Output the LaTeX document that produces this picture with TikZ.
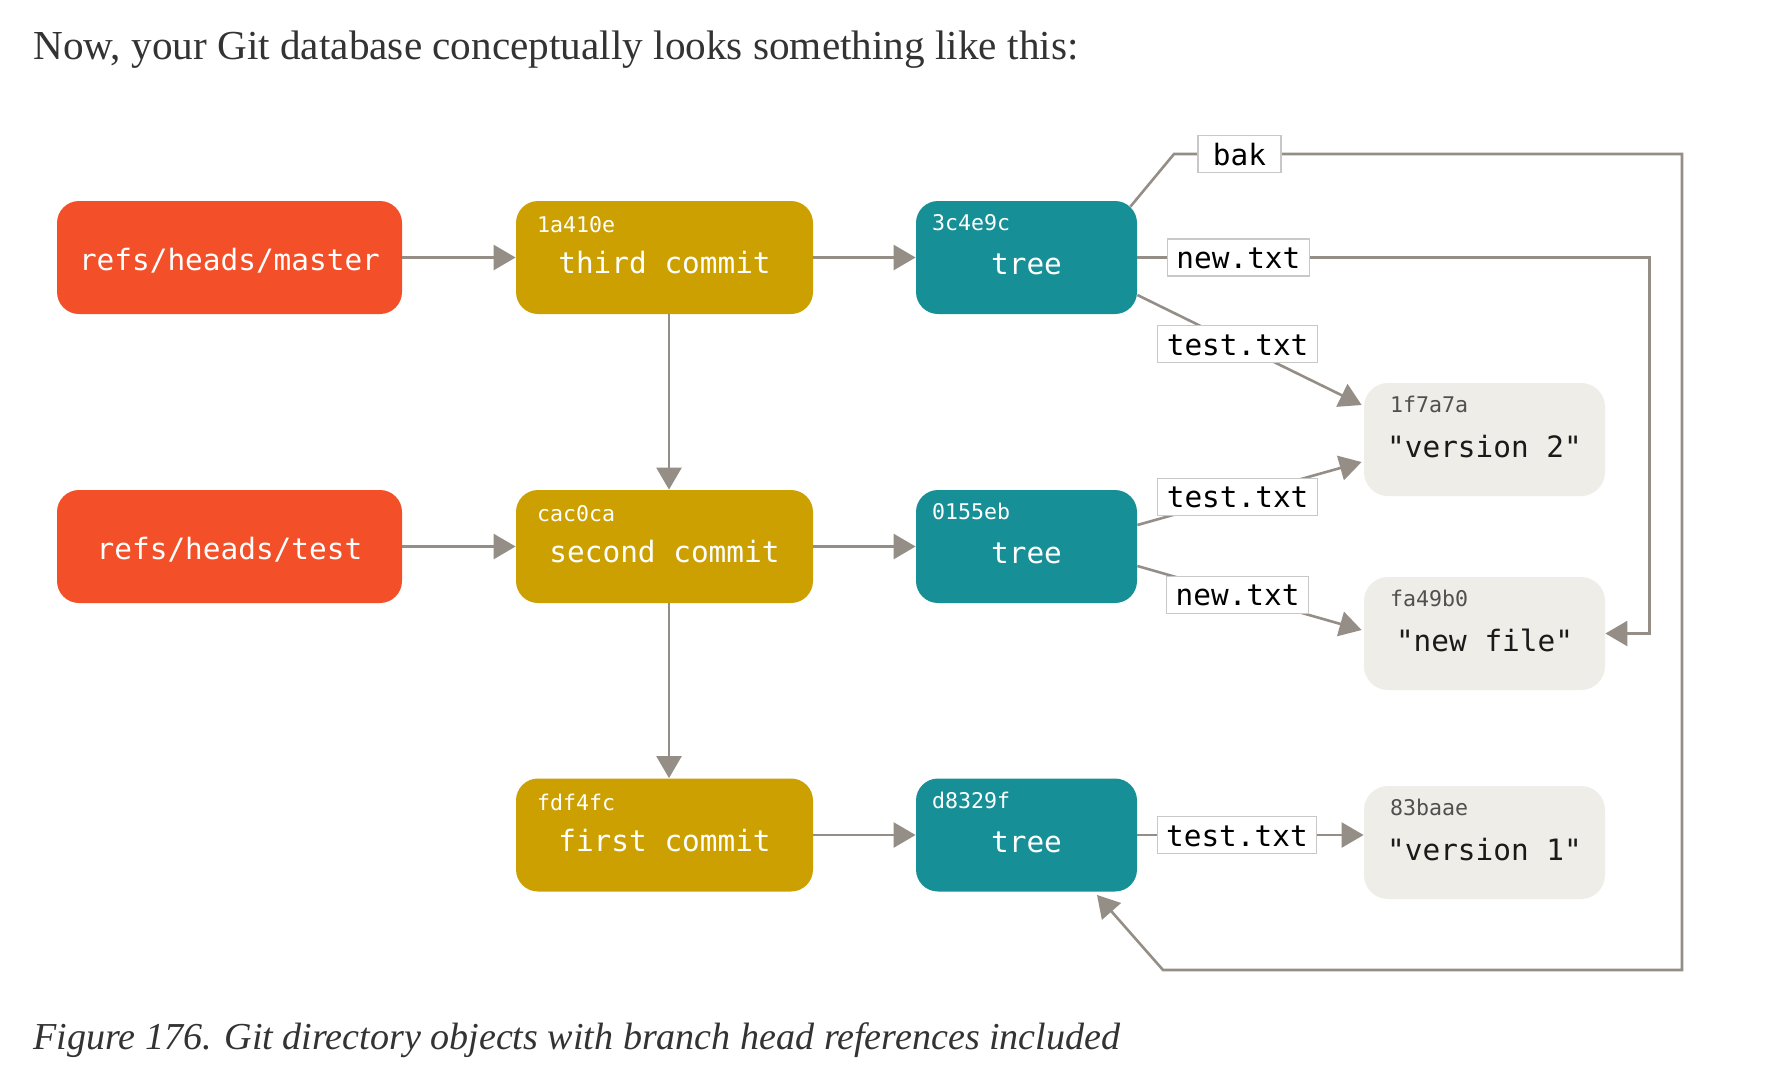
\documentclass[tikz,border=0pt]{standalone}
\usepackage{fontspec}
\setmainfont{Liberation Serif}
\newfontfamily\monof{DejaVu Sans Mono}
\usetikzlibrary{arrows.meta,calc}
\definecolor{refc}{HTML}{F35029}
\definecolor{commitc}{HTML}{CCA000}
\definecolor{treec}{HTML}{178F96}
\definecolor{blobc}{HTML}{EEEDE7}
\definecolor{linec}{HTML}{948E87}
\definecolor{lblc}{HTML}{C8C8C8}
\definecolor{titlec}{HTML}{333333}
\definecolor{blobtext}{HTML}{1A1A1A}
\definecolor{hashdark}{HTML}{505050}
\begin{document}
\begin{tikzpicture}[x=0.5pt,y=-0.5pt,
  box/.style={rounded corners=11pt, minimum height=56.5pt, inner sep=0pt,
    font=\monof\fontsize{14.7}{16}\selectfont, text depth=2.2pt},
  refbox/.style={box, fill=refc, text=white, minimum width=172.5pt, text height=15.6pt},
  commitbox/.style={box, fill=commitc, text=white, minimum width=148.5pt, text height=18.6pt},
  treebox/.style={box, fill=treec, text=white, minimum width=110.5pt, text height=19.6pt},
  blobbox/.style={box, fill=blobc, text=blobtext, minimum width=120.5pt, rounded corners=12pt, text height=20.6pt},
  hash/.style={anchor=west, inner sep=0pt, font=\monof\fontsize{10.8}{12}\selectfont, text=white},
  hashd/.style={hash, text=hashdark},
  lbl/.style={fill=white, draw=lblc, line width=0.6pt, inner xsep=4.5pt, inner ysep=0pt,
    minimum height=18.5pt, text height=13.2pt, text depth=2.2pt,
    font=\monof\fontsize{14.7}{16}\selectfont, text=black},
  arr/.style={draw=linec, line width=1.3pt, -{Triangle[length=11pt,width=12.5pt]}}
]
\fill[white] (0,0) rectangle (1765,1089);
\useasboundingbox (0,0) rectangle (1765,1089);

\node[anchor=base west, inner sep=0pt, text=titlec, font=\fontsize{19}{22}\selectfont] (title) at (33,59.5)
  {\resizebox{522.5pt}{!}{Now, your Git database conceptually looks something like this:}};
\node[anchor=base west, inner sep=0pt, text=titlec, font=\itshape\fontsize{19}{22}\selectfont] (caption) at (33,1049)
  {\resizebox{543.5pt}{!}{Figure 176. Git directory objects with branch head references included}};

\node[refbox] (mr) at (229.5,257.5) {refs/heads/master};
\node[refbox] (tr) at (229.5,546.5) {refs/heads/test};
\node[commitbox] (c3) at (664.5,257.5) {third commit};
\node[commitbox] (c2) at (664.5,546.5) {second commit};
\node[commitbox] (c1) at (664.5,835) {first commit};
\node[treebox] (t1) at (1026.5,257.5) {tree};
\node[treebox] (t2) at (1026.5,546.5) {tree};
\node[treebox] (t3) at (1026.5,835) {tree};
\node[blobbox] (b1) at (1484.5,439.5) {"version 2"};
\node[blobbox] (b2) at (1484.5,633.5) {"new file"};
\node[blobbox] (b3) at (1484.5,842.5) {"version 1"};

\node[hash] (h3) at ($(c3.north west)+(21,24)$) {1a410e};
\node[hash] (h2) at ($(c2.north west)+(21,24)$) {cac0ca};
\node[hash] (h1) at ($(c1.north west)+(21,24)$) {fdf4fc};
\node[hash] (ht1) at ($(t1.north west)+(16,22)$) {3c4e9c};
\node[hash] (ht2) at ($(t2.north west)+(16,22)$) {0155eb};
\node[hash] (ht3) at ($(t3.north west)+(16,22)$) {d8329f};
\node[hashd] (hb1) at ($(b1.north west)+(26,22)$) {1f7a7a};
\node[hashd] (hb2) at ($(b2.north west)+(26,22)$) {fa49b0};
\node[hashd] (hb3) at ($(b3.north west)+(26,22)$) {83baae};

\draw[arr] (mr) -- (c3);
\draw[arr] (tr) -- (c2);
\draw[arr] (c3) -- (t1);
\draw[arr] (c2) -- (t2);
\draw[arr] (c1) -- (t3);
\draw[arr] ($(c3.south)+(4.5,0)$) -- ($(c2.north)+(4.5,0)$);
\draw[arr] ($(c2.south)+(4.5,0)$) -- ($(c1.north)+(4.5,0)$);

\draw[arr] ($(t1.north east)+(-7,6)$) -- (1174,154)
  -- node[lbl, minimum width=41.5pt] (l1) {bak} (1305,154)
  -- (1682,154) -- (1682,970) -- (1163,970) -- ($(t3.south)+(70.5,3)$);
\draw[arr] (t1.east) -- node[lbl] (l2) {new.txt} ++(202,0) -- ++(310,0) |- (b2.east);
\draw[arr] ($(t1.east)+(0,37.5)$) -- node[lbl,pos=0.447] (l3) {test.txt} ($(b1.west)+(-2,-34.5)$);
\draw[arr] ($(t2.east)+(0,-21.5)$) -- node[lbl,pos=0.447] (l4) {test.txt} ($(b1.west)+(-2,22.5)$);
\draw[arr] ($(t2.east)+(0,19.5)$) -- node[lbl,pos=0.447] (l5) {new.txt} ($(b2.west)+(-2,-3.5)$);
\draw[arr] (t3.east) -- node[lbl,pos=0.44] (l6) {test.txt} (t3.east -| b3.west);
\end{tikzpicture}
\end{document}
